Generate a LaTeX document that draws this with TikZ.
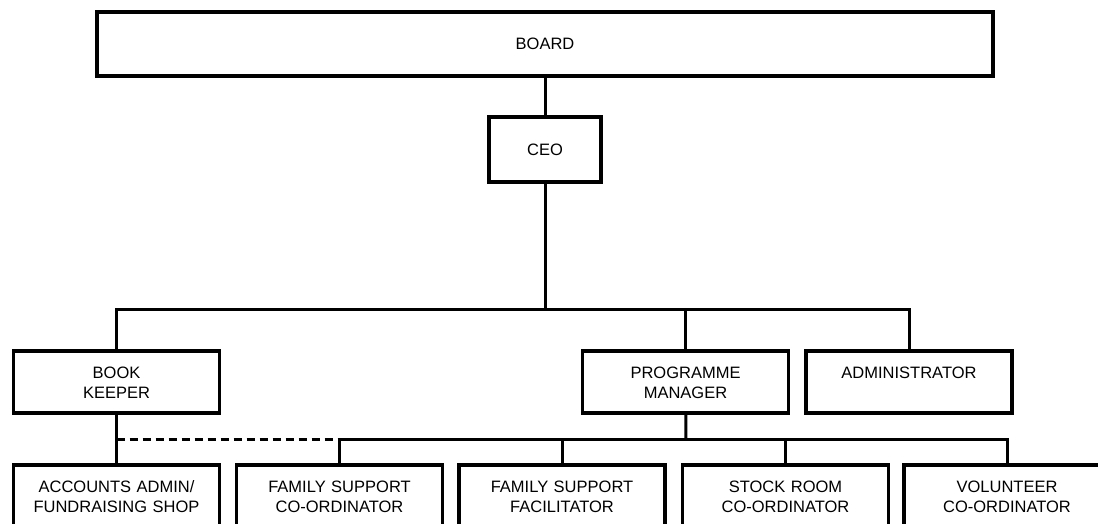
\documentclass[tikz,border=0pt]{standalone}
\usepackage{fontspec}
\setmainfont{Liberation Sans}
\tikzset{
  box/.style={draw, rectangle, inner sep=0pt, align=center,
    font=\fontsize{16.5}{20}\selectfont},
  post/.style={box, minimum width=206pt, minimum height=62pt,
    text width=200pt, text height=12pt, text depth=20pt},
  link/.style={line width=3pt},
  dotted link/.style={link, dash pattern=on 8pt off 5pt}
}
\begin{document}
\begin{tikzpicture}[x=1pt, y=-1pt, line width=3.3pt]
  \clip (0,0) rectangle (1098,524);
  \node [box, minimum width=896pt, minimum height=64pt] (board) at (545,44) {BOARD};
  \node [box, minimum width=112pt, minimum height=65pt] (ceo) at (545,149.5) {CEO};
  \node [post] (book) at (116.5,382) {BOOK\\KEEPER};
  \node [post] (prog) at (685.5,382) {PROGRAMME\\MANAGER};
  \node [post] (admin) at (909,382) {ADMINISTRATOR};
  \node [post] (acc) at (116.5,496) {ACCOUNTS ADMIN/\\FUNDRAISING SHOP};
  \node [post] (fsc) at (339.5,496) {FAMILY SUPPORT\\CO-ORDINATOR};
  \node [post] (fsf) at (562,496) {FAMILY SUPPORT\\FACILITATOR};
  \node [post] (stock) at (785.5,496) {STOCK ROOM\\CO-ORDINATOR};
  \node [post] (vol) at (1007,496) {VOLUNTEER\\CO-ORDINATOR};
  \coordinate (bus) at (545,309);
  \coordinate (team) at (686,439);
  \draw [link] (board) -- (ceo);
  \draw [link] (ceo) -- (bus);
  \draw [link] (book.north) |- (bus) -| (admin.north);
  \draw [link] (prog.north) -- (prog.north |- bus);
  \draw [link] (book) -- (acc);
  \draw [dotted link] (book.south |- team) -- (fsc.north |- team);
  \draw [link] (prog) -- (team);
  \draw [link] (fsc.north) |- (team) -| (vol.north);
  \draw [link] (fsf.north) -- (fsf.north |- team);
  \draw [link] (stock.north) -- (stock.north |- team);
\end{tikzpicture}
\end{document}
